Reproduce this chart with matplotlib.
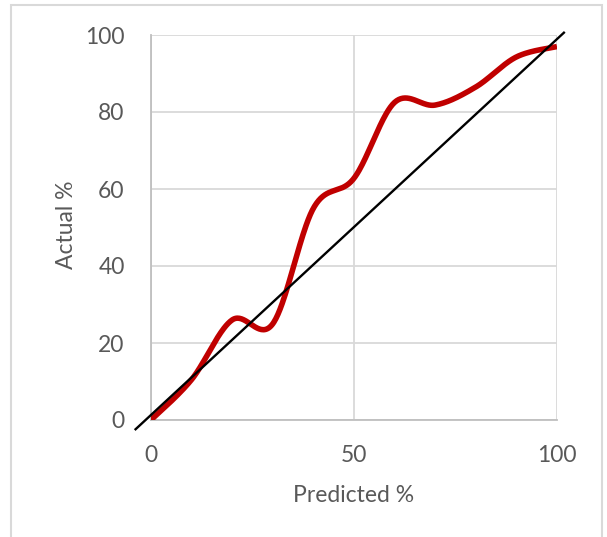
import numpy as np
import matplotlib
matplotlib.use("Agg")
import matplotlib.pyplot as plt
from matplotlib.patches import Rectangle

# calibration data: predicted vs actual percentage
predicted = [0, 10, 20, 30, 40, 50, 60, 70, 80, 90, 100]
actual = [0, 10.5, 26, 25, 55, 62.8, 82.5, 81.8, 86.5, 94.3, 97]

# reference diagonal, drawn a little past the plot area
diag_x = [-3.8, 101.7]
diag_y = [-2.4, 100.6]

x_ticks = [0, 50, 100]
y_ticks = [0, 20, 40, 60, 80, 100]


def smooth(xs, ys, n=40):
    # spreadsheet style smoothed line: cubic bezier segments with catmull-rom controls
    px = np.array(xs, float)
    py = np.array(ys, float)
    px = np.concatenate([[px[0]], px, [px[-1]]])
    py = np.concatenate([[py[0]], py, [py[-1]]])
    outx, outy = [], []
    t = np.linspace(0, 1, n)
    for i in range(1, len(px) - 2):
        p0 = np.array([px[i], py[i]])
        p3 = np.array([px[i + 1], py[i + 1]])
        c1 = p0 + (np.array([px[i + 1], py[i + 1]]) - np.array([px[i - 1], py[i - 1]])) / 6
        c2 = p3 - (np.array([px[i + 2], py[i + 2]]) - np.array([px[i], py[i]])) / 6
        b = ((1 - t) ** 3)[:, None] * p0 + (3 * t * (1 - t) ** 2)[:, None] * c1 \
            + (3 * t ** 2 * (1 - t))[:, None] * c2 + (t ** 3)[:, None] * p3
        outx.extend(b[:, 0])
        outy.extend(b[:, 1])
    return outx, outy


plt.rcParams['font.family'] = ['Lato', 'DejaVu Sans']
txt = '#595959'
grid = '#d9d9d9'
fs = 16.5

W, H = 607, 537
fig = plt.figure(figsize=(W / 100, H / 100), dpi=100)
fig.patch.set_facecolor('white')

# chart frame
fig.patches.append(Rectangle((11 / W, -0.01), 591 / W, 1 - 5 / H + 0.01,
                             transform=fig.transFigure, fill=False,
                             edgecolor=grid, linewidth=1.5))

ax = fig.add_axes([151 / W, 1 - 420 / H, 406 / W, 385 / H])
ax.set_xlim(0, 100)
ax.set_ylim(0, 100)
ax.set_xticks(x_ticks)
ax.set_yticks(y_ticks)
ax.grid(True, color=grid, linewidth=1.3)
ax.set_axisbelow(True)
ax.tick_params(length=0, labelsize=fs, colors=txt)
ax.tick_params(axis='y', pad=19)
ax.tick_params(axis='x', pad=18)
for s in ['top', 'right']:
    ax.spines[s].set_visible(False)
for s in ['left', 'bottom']:
    ax.spines[s].set_color('#bfbfbf')
    ax.spines[s].set_linewidth(1.3)

sx, sy = smooth(predicted, actual)
ax.plot(sx, sy, color='#c00000', linewidth=4, solid_capstyle='butt', zorder=3)
ax.plot(diag_x, diag_y, color='black', linewidth=1.7, clip_on=False, zorder=4)

# axis titles
fig.text(354 / W, 1 - 502 / H, 'Predicted %', fontsize=fs, color=txt,
         ha='center', va='baseline')
fig.text(73 / W, 1 - 225 / H, 'Actual %', fontsize=fs, color=txt,
         ha='center', va='baseline', rotation=90, rotation_mode='anchor')

fig.savefig('out.png', dpi=100)
